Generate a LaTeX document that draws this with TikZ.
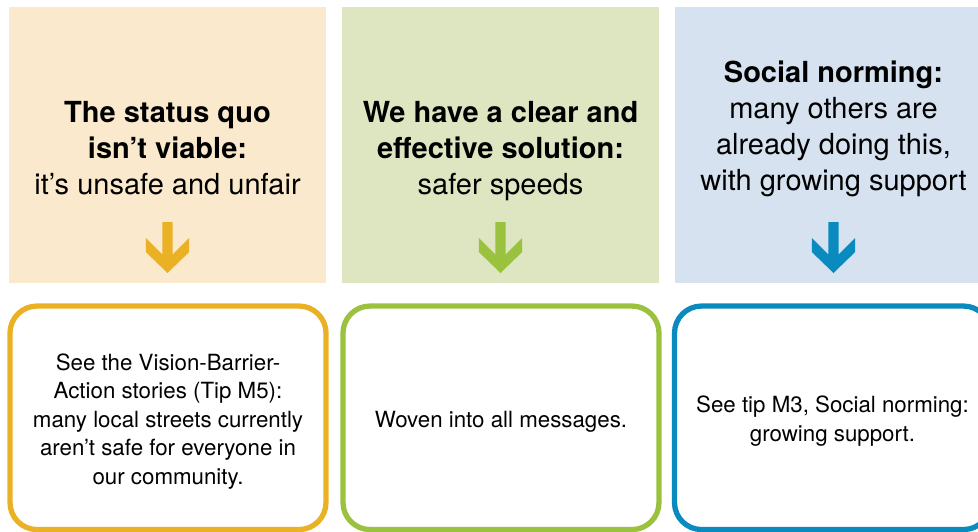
\documentclass[tikz,border=0pt]{standalone}
\usepackage{fontspec}
\setmainfont{TeX Gyre Heros}

\definecolor{amberfill}{HTML}{FAE9CC}
\definecolor{amber}{HTML}{EBB125}
\definecolor{leaffill}{HTML}{DDE6C1}
\definecolor{leaf}{HTML}{9BC23F}
\definecolor{skyfill}{HTML}{D6E2F0}
\definecolor{sky}{HTML}{0A8BC0}

% chunky down arrow, centred on x=0, tip at y=273
\newcommand{\dnarrow}[1]{%
  \fill[#1] (-5.2,222) -- (5.2,222) -- (5.2,254.5) -- (21.7,238)
    -- (21.7,252) -- (0,273) -- (-21.7,252) -- (-21.7,238)
    -- (-5.2,254.5) -- cycle;}

\begin{document}
\begin{tikzpicture}[x=1pt,y=-1pt,
    panel/.style={minimum width=317, minimum height=276.3, inner sep=0},
    head/.style={anchor=base, align=center, inner sep=0,
      font=\fontsize{29}{36}\selectfont},
    card/.style={rounded corners=27, line width=5.3, minimum width=316,
      minimum height=223.5, inner sep=0},
    note/.style={align=center, inner sep=0,
      font=\fontsize{22.3}{28.6}\selectfont}]
  \useasboundingbox (0,0) rectangle (978,531);
  \clip (0,0) rectangle (978,531);

  \begin{scope}[shift={(167.5,0)}]
    \node[panel,fill=amberfill] (panel1) at (0,145.15) {};
    % base = last line here
    \node[head] (head1) at (0,194)
      {\textbf{The status quo}\\\textbf{isn’t viable:}\\it’s unsafe and unfair};
    \dnarrow{amber}
    \node[card,draw=amber] (card1) at (0.5,417.8) {};
    \node[note] (note1) at ([yshift=-3.5]card1.center)
      {See the Vision-Barrier-\\Action stories (Tip M5):\\many local streets currently\\aren’t safe for everyone in\\our community.};
  \end{scope}

  \begin{scope}[shift={(500.5,0)}]
    \node[panel,fill=leaffill] (panel2) at (0,145.15) {};
    \node[head] (head2) at (0,194)
      {\textbf{We have a clear and}\\\textbf{effective solution:}\\safer speeds};
    \dnarrow{leaf}
    \node[card,draw=leaf] (card2) at (0.5,417.8) {};
    \node[note] (note2) at ([yshift=-3.5]card2.center) {Woven into all messages.};
  \end{scope}

  \begin{scope}[shift={(833.5,0)}]
    \node[panel,fill=skyfill] (panel3) at (0,145.15) {};
    \node[head] (head3) at (0,190)
      {\textbf{Social norming:}\\many others are\\already doing this,\\with growing support};
    \dnarrow{sky}
    \node[card,draw=sky] (card3) at (-1,417.8) {};
    \node[note] (note3) at ([yshift=-3.5]card3.center)
      {See tip M3, Social norming:\\growing support.};
  \end{scope}
\end{tikzpicture}
\end{document}
